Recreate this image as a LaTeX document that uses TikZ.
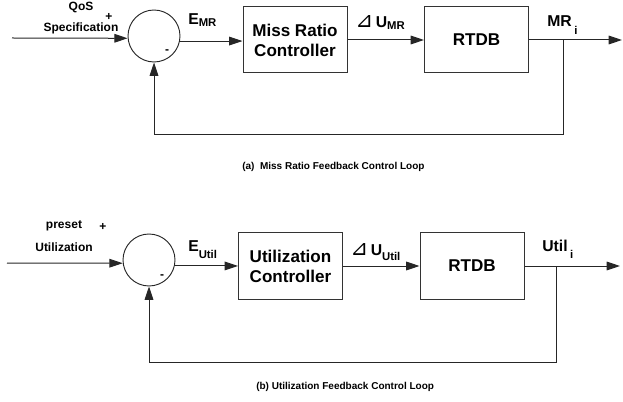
\documentclass[tikz,border=0pt]{standalone}
\usepackage{fontspec}
\setmainfont{Liberation Sans}
\newfontfamily\symfont{DejaVu Sans}
\usetikzlibrary{arrows.meta}

% lowered subscript: #1 = drop, #2 = text
\newcommand\lowsub[2]{\raisebox{-#1}{\fontsize{8.5}{9}\selectfont #2}}
\newcommand\deltasym{{\symfont\mdseries\fontsize{16}{17}\selectfont ⊿}}

\begin{document}
\begin{tikzpicture}[x=0.75pt,y=-0.75pt,
  wire/.style={draw=black!85, line width=0.75pt},
  flow/.style={wire, -{Triangle[length=10pt,width=6.5pt]}},
  blockbox/.style={draw=black!80, line width=0.75pt, minimum width=78pt,
    minimum height=49.5pt, inner sep=0pt, align=center,
    font=\fontsize{12.8}{15}\selectfont\bfseries},
  junction/.style={circle, draw=black!85, line width=0.7pt,
    minimum size=39pt, inner sep=0pt},
  lab/.style={inner sep=0pt, font=\fontsize{9}{10}\selectfont\bfseries},
  sig/.style={inner sep=0pt, anchor=base west,
    font=\fontsize{11.8}{13}\selectfont\bfseries},
  captionlabel/.style={inner sep=0pt, anchor=west,
    font=\fontsize{7.5}{9}\selectfont\bfseries}]
\useasboundingbox (0,0) rectangle (623,402);

% ---------- (a) miss ratio loop ----------
\node[junction] (c1) at (154,36) {};
\node[blockbox] (b1) at (295,40) {Miss Ratio\\Controller};
\node[blockbox] (r1) at (476.5,40) {RTDB};
\coordinate (in1) at (12,38);
\coordinate (out1) at (622,40);
\coordinate (tap1) at (563,40);
\coordinate (low1r) at (563,135);
\coordinate (low1l) at (154,135);

\draw[flow] (in1) -- (c1.-175);
\draw[flow] (c1.-11) -- (c1.-11 -| b1.west);
\draw[flow] (b1.east) -- (r1.west);
\draw[flow] (r1.east) -- (out1);
\draw[wire] (tap1) -- (low1r) -- (low1l);
\draw[flow] (low1l) -- (c1.south);

\node[lab] (qos) at (81,7) {QoS};
\node[lab] (plus1) at (109,16.5) {+};
\node[lab] (spec) at (81,28) {Specification};
\node[lab] (minus1) at (167,52) {-};
\node[sig] (emr) at (188,25) {E\lowsub{1pt}{MR}};
\node[sig] (umr) at (355,28) {\deltasym\,U\lowsub{1.5pt}{MR}};
\node[sig] (mri) at (547,27) {MR\,\lowsub{6pt}{i}};
\node[captionlabel] (capa) at (242,167) {(a)\ \ Miss Ratio Feedback Control Loop};

% ---------- (b) utilization loop ----------
\node[junction] (c2) at (149,260) {};
\node[blockbox] (b2) at (290.5,266) {Utilization\\Controller};
\node[blockbox] (r2) at (472,266) {RTDB};
\coordinate (in2) at (7,263);
\coordinate (out2) at (620,266);
\coordinate (tap2) at (556,266);
\coordinate (low2r) at (556,362);
\coordinate (low2l) at (149,362);

\draw[flow] (in2) -- (c2.-173);
\draw[flow] (c2.-13) -- (c2.-13 -| b2.west);
\draw[flow] (b2.east) -- (r2.west);
\draw[flow] (r2.east) -- (out2);
\draw[wire] (tap2) -- (low2r) -- (low2l);
\draw[flow] (low2l) -- (c2.south);

\node[lab] (preset) at (64,226) {preset};
\node[lab] (plus2) at (103,227) {+};
\node[lab] (util) at (64,247) {Utilization};
\node[lab] (minus2) at (162,277) {-};
\node[sig] (eutil) at (188,252) {E\lowsub{5pt}{Util}};
\node[sig] (uutil) at (350,255) {\deltasym\,U\lowsub{3.75pt}{Util}};
\node[sig] (utili) at (542,252) {Util\,\lowsub{5pt}{i}};
\node[captionlabel] (capb) at (256,387) {(b) Utilization Feedback Control Loop};
\end{tikzpicture}
\end{document}
